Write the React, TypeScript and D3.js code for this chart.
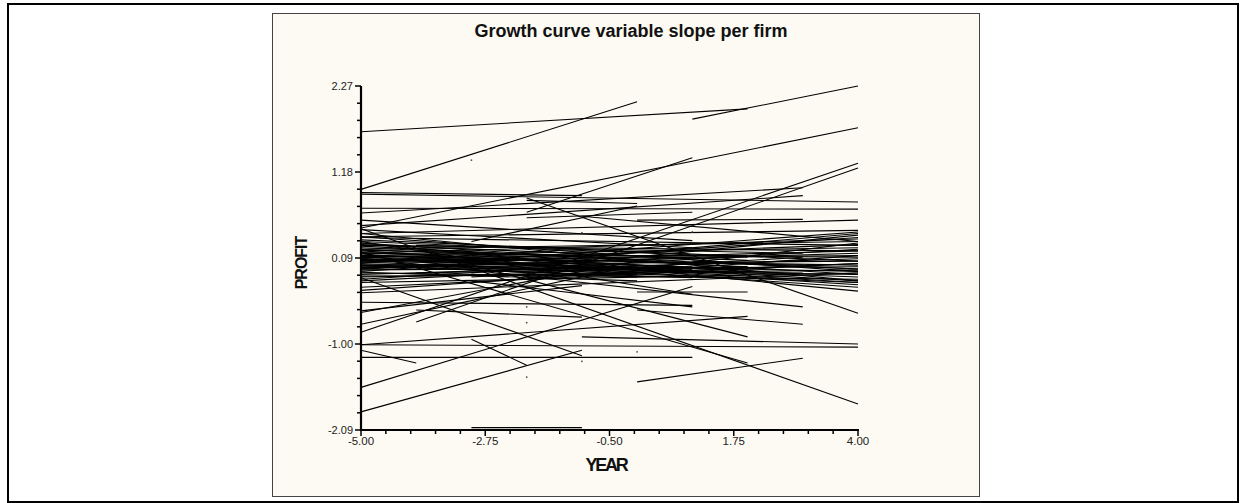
import React from 'react';
import * as d3 from 'd3';

// each firm: [firstYear, lastYear, profitAtFirst, profitAtLast]
const upperFirms: number[][] = [
  [-5, 2, 1.69, 1.98],
  [-5, 0, 0.96, 2.07],
  [1, 4, 1.85, 2.27],
  [-5, 4, 0.47, 1.74],
  [-2, 1, 0.67, 1.36],
  [-5, 4, -0.85, 1.29],
  [-4, 4, -0.72, 1.23],
  [-5, -1, 0.92, 0.88],
  [-5, 4, 0.9, 0.8],
  [-5, 3, 0.66, 0.98],
  [-5, 3, 0.5, 0.88],
  [-5, 4, 0.72, 0.71],
  [-2, 0, 0.82, 0.78],
  [0, 3, 0.57, 0.58],
  [-2, 1, 0.6, 0.67],
  [-5, 4, 0.4, 0.57],
  [-5, 4, 0.36, 0.44],
  [-3, 0, 0.3, 0.75],
  [-1, 4, 0.62, 0.3],
  [-2, 4, 0.85, -0.61],
  [-5, 1, 0.57, 0.31],
  [-5, 1, 0.45, 0.22],
];

const lowerFirms: number[][] = [
  [-5, -1, -1.86, -1.08],
  [-5, 1, -1.55, -0.27],
  [-5, -4, -1.08, -1.24],
  [-3, -2, -0.94, -1.27],
  [0, 3, -1.48, -1.18],
  [-1, 4, -0.91, -1.0],
  [-5, 4, -1.01, -1.04],
  [-5, 1, -1.17, -1.17],
  [-5, 2, -1.01, -0.65],
  [-5, 4, 0.46, -1.76],
  [0, 2, -0.34, -0.34],
  [0, 3, -0.57, -0.75],
  [-3, 2, 0.0, -0.91],
  [-5, 2, 0.17, -1.24],
  [-5, 4, 0.28, -0.33],
  [-5, 3, 0.09, -0.53],
  [-5, 1, 0.3, -0.37],
  [-3, 1, -0.2, -0.53],
  [-5, -1, -0.16, -1.15],
  [-5, 1, -0.47, -0.51],
  [-4, -1, -0.57, -0.66],
  [-3, -1, -2.06, -2.06],
  [-5, 4, -0.35, -0.1],
  [-5, 0, -0.6, 0.05],
  [-5, 0, -0.75, 0.0],
  [-5, -1, -0.58, -0.26],
];

const coreFirms: number[][] = [
  [-5, 4, 0.32, 0.05],
  [-5, 4, 0.28, -0.12],
  [-5, 4, 0.25, 0.18],
  [-5, 4, 0.22, -0.05],
  [-5, 4, 0.2, 0.3],
  [-5, 4, 0.18, -0.2],
  [-5, 4, 0.15, 0.1],
  [-5, 4, 0.14, -0.28],
  [-5, 4, 0.12, 0.22],
  [-5, 4, 0.1, 0.0],
  [-5, 4, 0.08, -0.15],
  [-5, 4, 0.06, 0.12],
  [-5, 4, 0.05, -0.08],
  [-5, 4, 0.03, 0.26],
  [-5, 4, 0.02, -0.22],
  [-5, 4, 0.0, 0.05],
  [-5, 4, -0.02, -0.12],
  [-5, 4, -0.04, 0.15],
  [-5, 4, -0.06, -0.02],
  [-5, 4, -0.08, 0.35],
  [-5, 4, -0.1, -0.18],
  [-5, 4, -0.12, 0.08],
  [-5, 4, -0.15, -0.06],
  [-5, 4, -0.18, 0.2],
  [-5, 4, -0.22, -0.1],
  [-5, 4, -0.28, 0.02],
  [-5, 4, 0.4, -0.2],
  [-5, 4, 0.36, -0.08],
  [-5, 4, -0.32, 0.12],
  [-5, 2, 0.2, -0.02],
  [-4, 4, 0.1, -0.22],
  [-3, 4, 0.05, 0.18],
  [-5, 1, -0.05, 0.1],
  [-2, 4, 0.02, -0.25],
  [-5, 3, 0.12, 0.0],
  [-4, 3, 0.25, 0.15],
  [-1, 4, 0.1, 0.4],
  [-5, 0, 0.0, -0.15],
  [-3, 3, -0.15, 0.1],
  [-5, 2, 0.3, 0.1],
  [0, 4, -0.05, 0.28],
  [-4, 2, -0.1, -0.02],
  [-2, 4, -0.15, 0.02],
  [-5, 4, 0.35, 0.25],
  [1, 4, 0.05, -0.05],
  [-5, -1, 0.05, 0.2],
  [-5, 4, -0.05, 0.42],
  [-5, 4, 0.15, 0.33],
  [-3, 4, -0.1, 0.38],
  [-5, 1, 0.08, -0.02],
  [-5, 0, 0.04, -0.1],
  [-5, -1, -0.03, 0.0],
  [-5, 2, 0.16, -0.06],
  [-5, 0, -0.14, -0.12],
  [-5, 3, 0.0, -0.1],
  [-5, 2, 0.1, -0.12],
  [-5, 1, 0.07, -0.05],
  [-5, -1, 0.24, 0.1],
  [-5, 0, -0.09, -0.2],
  [-4, 1, 0.0, -0.06],
  [-5, 2, 0.11, 0.12],
  [-5, 0, -0.2, -0.02],
  [-5, -1, 0.19, 0.12],
  [-3, 2, 0.12, -0.08],
  [-5, 1, -0.01, -0.16],
  [-5, 2, 0.26, 0.06],
  [-5, -1, 0.06, 0.06],
];

// firms with a single observation: [year, profit]
const singleObs: number[][] = [
  [-3, 1.33],
  [-2, -0.53],
  [-2, -0.73],
  [-2, -1.42],
  [-1, -1.22],
  [0, -1.1],
  [-1, 0.41],
  [1, 0.42],
];

const yTickLabels = ['2.27', '1.18', '0.09', '-1.00', '-2.09'];
const xTickLabels = ['-5.00', '-2.75', '-0.50', '1.75', '4.00'];

export default function App() {
  const x = d3.scaleLinear().domain([-5, 4]).range([361, 858]);
  const y = d3.scaleLinear().domain([-2.09, 2.27]).range([430, 86]);

  const yTicks = d3.range(21).map(i => -2.09 + i * 0.218);
  const xTicks = d3.range(21).map(i => -5 + i * 0.45);
  const line = d3.line<number[]>().x(d => x(d[0])).y(d => y(d[1]));

  const firms = [...upperFirms, ...lowerFirms, ...coreFirms];

  return (
    <div style={{ position: 'absolute', left: 0, top: 0 }}>
      <svg width={1246} height={503} style={{ display: 'block', fontFamily: 'Arial, "Liberation Sans", sans-serif' }}>
        <rect x={0} y={0} width={1246} height={503} fill="#fff" />
        <rect x={8} y={4} width={1230} height={498} fill="none" stroke="#000" strokeWidth={2} />
        <rect x={272.5} y={13.5} width={707} height={483} fill="#fcfaf2" stroke="#444" strokeWidth={1} />

        <text x={631} y={37} textAnchor="middle" fontSize={18} fontWeight="bold" fill="#111">
          Growth curve variable slope per firm
        </text>

        <g stroke="#000" strokeWidth={1.1} fill="none">
          {firms.map((f, i) => (
            <path key={i} d={line([[f[0], f[2]], [f[1], f[3]]]) || ''} />
          ))}
        </g>
        <g fill="#444">
          {singleObs.map((p, i) => (
            <rect key={i} x={x(p[0]) - 0.75} y={y(p[1]) - 0.75} width={1.5} height={1.5} />
          ))}
        </g>

        {/* y axis */}
        <line x1={361} x2={361} y1={y(2.27)} y2={y(-2.09) + 1} stroke="#000" strokeWidth={2.2} />
        {yTicks.map((t, i) => (
          <line key={i} x1={i % 5 === 0 ? 355 : 357} x2={361} y1={y(t)} y2={y(t)} stroke="#000" strokeWidth={1.5} />
        ))}
        {yTickLabels.map((l, i) => (
          <text key={l} x={353} y={y(2.27 - i * 1.09) + 4} textAnchor="end" fontSize={11} fill="#222">
            {l}
          </text>
        ))}

        {/* x axis */}
        <line x1={360} x2={x(4) + 1} y1={430} y2={430} stroke="#000" strokeWidth={2.2} />
        {xTicks.map((t, i) => (
          <line key={i} x1={x(t)} x2={x(t)} y1={430} y2={i % 5 === 0 ? 436 : 434} stroke="#000" strokeWidth={1.5} />
        ))}
        {xTickLabels.map((l, i) => (
          <text key={l} x={x(-5 + i * 2.25)} y={445} textAnchor="middle" fontSize={11.5} fill="#222">
            {l}
          </text>
        ))}

        <text x={606} y={471} textAnchor="middle" fontSize={18} fontWeight="bold" letterSpacing={-2.2} fill="#111">
          YEAR
        </text>
        <text transform="translate(307,263) rotate(-90)" textAnchor="middle" fontSize={16} fontWeight="bold" letterSpacing={-1} fill="#111">
          PROFIT
        </text>
      </svg>
    </div>
  );
}
